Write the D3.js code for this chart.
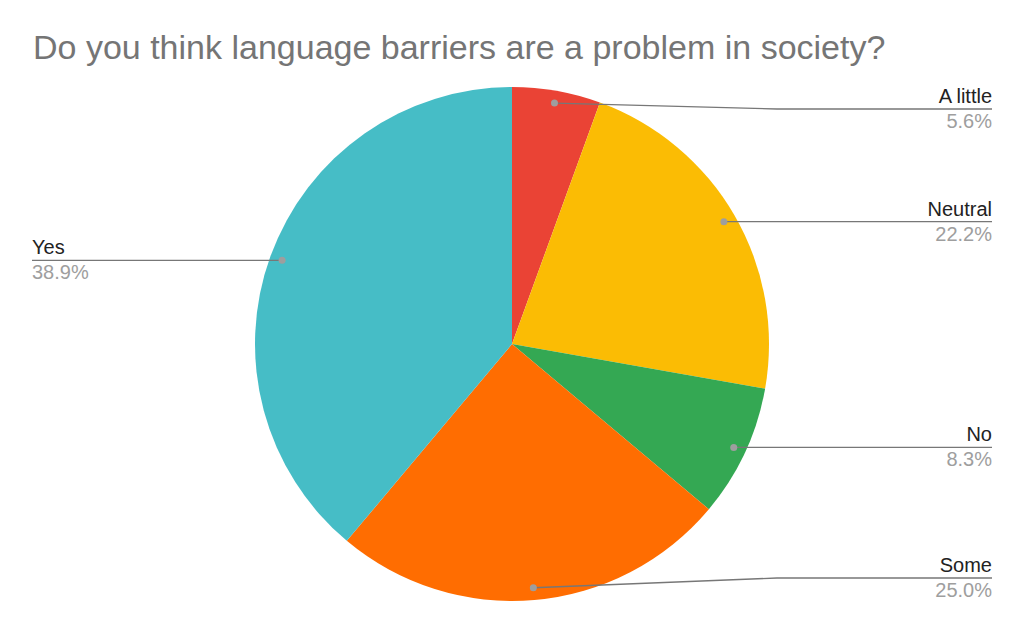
<!DOCTYPE html>
<html>
<head>
<meta charset="utf-8">
<script src="https://cdn.jsdelivr.net/npm/d3@7"></script>
<style>
  body { margin: 0; background: #fff; }
  svg { display: block; font-family: "Liberation Sans", Arial, sans-serif; }
</style>
</head>
<body>
<div id="chart"></div>
<script>
// data
const TITLE = "Do you think language barriers are a problem in society?";
const categories = ["A little", "Neutral", "No", "Some", "Yes"];
const values = [2, 8, 3, 9, 14];
const sliceColors = ["#EA4335", "#FBBC04", "#34A853", "#FF6D01", "#46BDC6"];

const W = 1024, H = 633;
const cx = 512, cy = 344, R = 257;
const dotR = R * 0.952;
const labelRight = 992, labelLeft = 32;
const lineMin = 109, lineMax = 578; // labels kept inside the plot area

const svg = d3.select("#chart").append("svg")
  .attr("width", W).attr("height", H);

svg.append("text")
  .attr("x", 33).attr("y", 59)
  .attr("fill", "#757575")
  .attr("font-size", 34)
  .text(TITLE);

const total = d3.sum(values);
const pie = d3.pie().sort(null).value(d => d.value);
const arcs = pie(categories.map((c, i) => ({ name: c, value: values[i], color: sliceColors[i] })));
const arc = d3.arc().innerRadius(0).outerRadius(R);

const g = svg.append("g").attr("transform", `translate(${cx},${cy})`);
g.selectAll("path.slice")
  .data(arcs)
  .join("path")
  .attr("class", "slice")
  .attr("fill", d => d.data.color)
  .attr("d", arc);

// leader lines + labels
const fmt = d3.format(".1%");
const lab = svg.append("g");
arcs.forEach(d => {
  const a = (d.startAngle + d.endAngle) / 2;
  const px = cx + dotR * Math.sin(a);
  const py = cy - dotR * Math.cos(a);
  const right = Math.sin(a) >= 0;
  const ly = Math.max(lineMin, Math.min(lineMax, py));
  const elbowX = right ? cx + R + 8 : cx - R - 8;
  const endX = right ? labelRight : labelLeft;

  lab.append("path")
    .attr("d", d3.line()([[px, py], [elbowX, ly], [endX, ly]]))
    .attr("fill", "none")
    .attr("stroke", "#777")
    .attr("stroke-width", 1.3);
  lab.append("circle")
    .attr("cx", px).attr("cy", py).attr("r", 3.5)
    .attr("fill", "#9e9e9e");

  const anchor = right ? "end" : "start";
  lab.append("text")
    .attr("x", endX).attr("y", ly - 6)
    .attr("text-anchor", anchor)
    .attr("font-size", 20)
    .attr("fill", "#222")
    .text(d.data.name);
  lab.append("text")
    .attr("x", endX).attr("y", ly + 19)
    .attr("text-anchor", anchor)
    .attr("font-size", 20)
    .attr("fill", "#9e9e9e")
    .text(fmt(d.data.value / total));
});
</script>
</body>
</html>
